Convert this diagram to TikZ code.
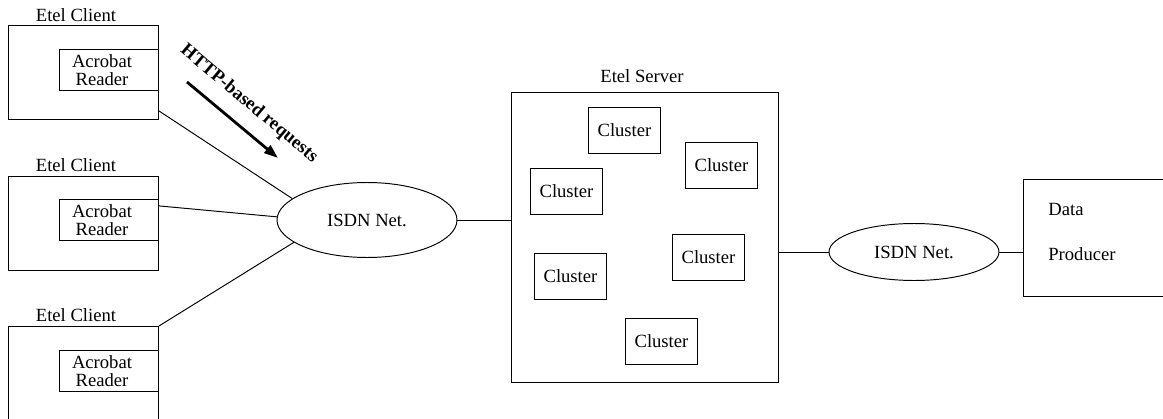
\documentclass[tikz,border=0pt]{standalone}
\usepackage{fontspec}
\setmainfont{Liberation Serif}
\usetikzlibrary{arrows.meta,shapes.geometric}
\begin{document}
\begin{tikzpicture}[x=0.02cm,y=-0.02cm,
  every node/.style={font=\fontsize{10.6}{11.5}\selectfont},
  outerbox/.style={draw,line width=0.55pt,inner sep=0pt,anchor=north west,minimum width=3cm,minimum height=1.88cm},
  innerbox/.style={draw,line width=0.55pt,inner sep=0pt,anchor=north west,minimum width=1.98cm,minimum height=0.83cm},
  clusterbox/.style={draw,line width=0.55pt,inner sep=0pt,anchor=north west,minimum width=1.44cm,minimum height=0.92cm},
  net/.style={draw,ellipse,line width=0.55pt,inner sep=0pt},
  link/.style={line width=0.55pt},
  lbl/.style={anchor=base,inner sep=0pt},
  reqarrow/.style={line width=1.6pt,-{Triangle[length=8pt,width=5.5pt]}}]
\useasboundingbox (0,0) rectangle (1163,419);
\clip (0,0) rectangle (1163,419);

% clients
\node[outerbox] (c1) at (8,25) {};
\node[innerbox] (r1) at (59,49) {};
\node[align=center,inner sep=0pt] (r1t) at (102,70) {Acrobat\\[-1.5pt]Reader};
\node[lbl] (l1) at (76,21) {Etel Client};

\node[outerbox] (c2) at (8,176) {};
\node[innerbox] (r2) at (59,199) {};
\node[align=center,inner sep=0pt] (r2t) at (102,220) {Acrobat\\[-1.5pt]Reader};
\node[lbl] (l2) at (76,171) {Etel Client};

\node[outerbox,minimum height=3cm] (c3) at (8,326) {};
\node[innerbox] (r3) at (59,350) {};
\node[align=center,inner sep=0pt] (r3t) at (102,371) {Acrobat\\[-1.5pt]Reader};
\node[lbl] (l3) at (76,321) {Etel Client};

% networks
\node[net,minimum width=3.6cm,minimum height=1.5cm] (e1) at (367,220) {ISDN Net.};
\node[net,minimum width=3.4cm,minimum height=1.14cm] (e2) at (914,252) {ISDN Net.};

% server
\node[draw,line width=0.55pt,inner sep=0pt,anchor=north west,minimum width=5.34cm,minimum height=5.8cm] (s) at (511,92) {};
\node[lbl] (sl) at (642,82) {Etel Server};
\node[clusterbox] (k1) at (588,107) {Cluster};
\node[clusterbox] (k2) at (685,142) {Cluster};
\node[clusterbox] (k3) at (530,168) {Cluster};
\node[clusterbox] (k4) at (672,234) {Cluster};
\node[clusterbox] (k5) at (534,253) {Cluster};
\node[clusterbox] (k6) at (625,318) {Cluster};

% data producer
\node[draw,line width=0.55pt,inner sep=0pt,anchor=north west,minimum width=3.2cm,minimum height=2.34cm] (dp) at (1023,179) {};
\node[anchor=west,inner sep=0pt] (dp1) at (1048,209) {Data};
\node[anchor=west,inner sep=0pt] (dp2) at (1048,254) {Producer};

% connectors
\draw[link] (c1.-27.5) -- (e1.164.7);
\draw[link] (r2.16.9) -- (e1.178);
\draw[link] (c3.north east) -- (e1.197);
\draw[link] (e1.east) -- (e1.east -| s.west);
\draw[link] (e2.west -| s.east) -- (e2.west);
\draw[link] (e2.east) -- (e2.east -| dp.west);

% request arrow
\coordinate (a1) at (187,82);
\coordinate (a2) at (278,158);
\draw[reqarrow] (a1) -- (a2);
\node[font=\fontsize{10.6}{11.5}\selectfont\bfseries,rotate=-40,inner sep=0pt] (req) at (249,104) {HTTP-based requests};
\end{tikzpicture}
\end{document}
